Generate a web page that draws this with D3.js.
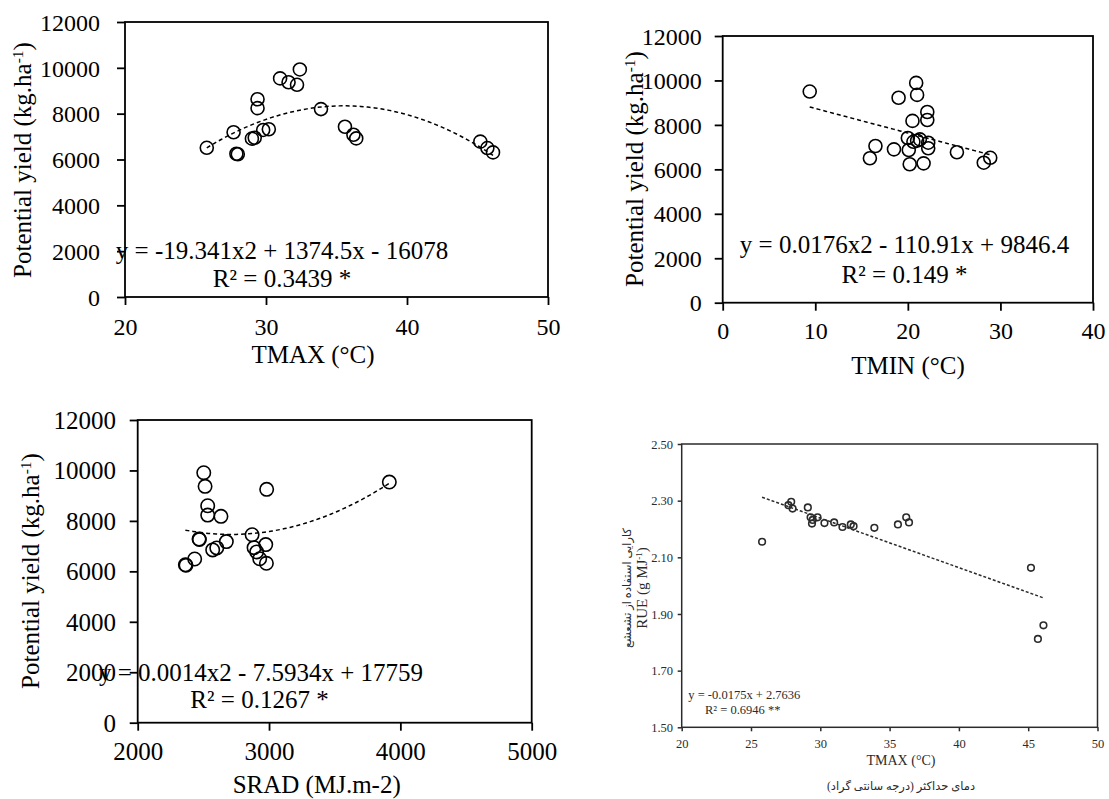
<!DOCTYPE html>
<html>
<head>
<meta charset="utf-8">
<script src="https://cdn.jsdelivr.net/npm/d3@7"></script>
<style>
body{margin:0;background:#fff;}
svg{display:block;}
</style>
</head>
<body>
<div id="chart"></div>
<script>
// ---- data ----
var tmaxX     = [25.8, 27.7, 27.9, 28.0, 29.0, 29.2, 29.4, 29.4, 29.8, 30.2, 31.0, 31.6, 32.2, 32.4, 33.9, 35.6, 36.2, 36.4, 45.2, 45.7, 46.1];
var tmaxYield = [6510, 7190, 6250, 6230, 6910, 6950, 8630, 8240, 7290, 7320, 9540, 9370, 9260, 9930, 8200, 7430, 7080, 6920, 6780, 6500, 6310];
var tmaxFit   = [-19.341, 1374.5, -16078];

var tminX     = [9.4, 15.9, 16.5, 18.5, 19.0, 20.0, 20.1, 20.2, 20.5, 20.6, 20.9, 21.0, 21.0, 21.3, 21.7, 22.1, 22.1, 22.2, 22.2, 25.3, 28.2, 28.9];
var tminYield = [9500, 6500, 7050, 6900, 9220, 7410, 6870, 6230, 8180, 7240, 9890, 9350, 7290, 7350, 6270, 8580, 8220, 7200, 6950, 6770, 6300, 6520];
var tminFit   = [0.0176, -110.91, 9846.4];

var sradX     = [2363, 2368, 2434, 2467, 2470, 2503, 2513, 2533, 2533, 2571, 2602, 2634, 2675, 2871, 2886, 2906, 2929, 2975, 2980, 2982, 3916];
var sradYield = [6260, 6240, 6490, 7280, 7260, 9910, 9370, 8600, 8230, 6850, 6930, 8180, 7180, 7450, 6940, 6770, 6500, 7060, 6320, 9250, 9540];
var sradFit   = [0.0014, -7.5934, 17759];

var rueTmax   = [25.8, 27.7, 27.9, 28.0, 29.1, 29.3, 29.4, 29.45, 29.8, 30.3, 31.0, 31.6, 32.2, 32.4, 33.9, 35.6, 36.2, 36.4, 45.2, 45.7, 46.1];
var rueValue  = [2.155, 2.284, 2.296, 2.272, 2.276, 2.241, 2.219, 2.232, 2.241, 2.221, 2.223, 2.207, 2.216, 2.210, 2.204, 2.216, 2.241, 2.223, 2.063, 1.812, 1.860];
var rueFit    = [0, -0.0175, 2.7636];

var yieldTicks = [0, 2000, 4000, 6000, 8000, 10000, 12000];
var tmaxTicks  = [20, 30, 40, 50];
var tminTicks  = [0, 10, 20, 30, 40];
var sradTicks  = [2000, 3000, 4000, 5000];
var rueXTicks  = [20, 25, 30, 35, 40, 45, 50];
var rueYTicks  = [1.5, 1.7, 1.9, 2.1, 2.3, 2.5];

var yieldTitle = 'Potential yield (kg.ha';
var eqTmax = ['y = -19.341x2 + 1374.5x - 16078', 'R² = 0.3439 *'];
var eqTmin = ['y = 0.0176x2 - 110.91x + 9846.4', 'R² = 0.149 *'];
var eqSrad = ['y = 0.0014x2 - 7.5934x + 17759', 'R² = 0.1267 *'];
var eqRue  = ['y = -0.0175x + 2.7636', 'R² = 0.6946 **'];

var serif = '"Liberation Serif", "Times New Roman", "DejaVu Sans", serif';

var svg = d3.select('#chart').append('svg')
    .attr('width', 1109)
    .attr('height', 799)
    .attr('font-family', serif);
svg.append('rect').attr('width', 1109).attr('height', 799).attr('fill', '#fff');

function poly(c, v){ return c[0]*v*v + c[1]*v + c[2]; }

/**
 * one scatter panel with its trend line
 */
function drawPanel(p){
    var b = p.box; // [left, right, top, bottom]
    var x = d3.scaleLinear().domain(p.xDomain).range([b[0], b[1]]);
    var y = d3.scaleLinear().domain(p.yDomain).range([b[3], b[2]]);
    var g = svg.append('g').attr('fill', p.ink);

    // x axis
    var gx = g.append('g')
        .attr('transform', 'translate(0,' + b[3] + ')')
        .call(d3.axisBottom(x).tickValues(p.xTicks).tickFormat(p.xFmt)
            .tickSizeInner(p.tick).tickSizeOuter(0));
    gx.attr('font-size', p.tickFs).attr('font-family', serif);
    gx.select('.domain').remove();
    gx.selectAll('line').attr('stroke', p.ink).attr('stroke-width', p.lw);
    gx.selectAll('text').attr('y', p.xLabelY).attr('dy', null).attr('fill', p.ink);

    // y axis
    var gy = g.append('g')
        .attr('transform', 'translate(' + b[0] + ',0)')
        .call(d3.axisLeft(y).tickValues(p.yTicks).tickFormat(p.yFmt)
            .tickSizeInner(p.tick).tickSizeOuter(0));
    gy.attr('font-size', p.tickFs).attr('font-family', serif);
    gy.select('.domain').remove();
    gy.selectAll('line').attr('stroke', p.ink).attr('stroke-width', p.lw);
    gy.selectAll('text').attr('x', -p.yLabelGap).attr('dy', '0.34em').attr('fill', p.ink);

    // frame
    g.append('rect')
        .attr('x', b[0]).attr('y', b[2])
        .attr('width', b[1] - b[0]).attr('height', b[3] - b[2])
        .attr('fill', 'none').attr('stroke', p.ink).attr('stroke-width', p.lw);

    // trend line
    var lo = d3.min(p.xs), hi = d3.max(p.xs);
    var xs = d3.range(0, 81).map(function(i){ return lo + (hi - lo) * i / 80; });
    g.append('path')
        .attr('d', d3.line().x(function(d){ return x(d); }).y(function(d){ return y(poly(p.fit, d)); })(xs))
        .attr('fill', 'none').attr('stroke', p.ink)
        .attr('stroke-width', p.dashW).attr('stroke-dasharray', p.dash);

    // points
    g.append('g').selectAll('circle')
        .data(p.xs.map(function(v, i){ return [v, p.ys[i]]; }))
        .enter().append('circle')
        .attr('cx', function(d){ return x(d[0]); })
        .attr('cy', function(d){ return y(d[1]); })
        .attr('r', p.r)
        .attr('fill', 'none').attr('stroke', p.ink).attr('stroke-width', p.markW);

    // equation
    g.selectAll('text.eq').data(p.eq).enter().append('text')
        .attr('class', 'eq')
        .attr('x', function(d, i){ return p.eqX[i]; })
        .attr('y', function(d, i){ return p.eqY[i]; })
        .attr('text-anchor', p.eqAnchor)
        .attr('font-size', p.eqFs)
        .text(function(d){ return d; });

    // x title
    g.append('text')
        .attr('x', p.xTitle[1]).attr('y', p.xTitle[2])
        .attr('text-anchor', 'middle').attr('font-size', p.titleFs)
        .text(p.xTitle[0]);

    return g;
}

function yieldYTitle(g, bx, cy, fs){
    var t = g.append('text')
        .attr('transform', 'translate(' + bx + ',' + cy + ') rotate(-90)')
        .attr('text-anchor', 'middle')
        .attr('font-size', fs);
    t.append('tspan').text(yieldTitle);
    t.append('tspan').attr('baseline-shift', 'super').attr('font-size', fs * 0.62).text('-1');
    t.append('tspan').text(')');
}

// TMAX panel
var p1 = drawPanel({
    box: [125, 548, 22, 297], xDomain: [20, 50], yDomain: [0, 12000],
    xTicks: tmaxTicks, yTicks: yieldTicks, xFmt: d3.format('d'), yFmt: d3.format('d'),
    xs: tmaxX, ys: tmaxYield, fit: tmaxFit,
    ink: '#000', lw: 1.8, tick: 8, tickFs: 24, xLabelY: 38, yLabelGap: 25,
    r: 6.5, markW: 1.6, dash: '4,3', dashW: 1.5,
    eq: eqTmax, eqX: [282, 282], eqY: [259, 287], eqAnchor: 'middle', eqFs: 25,
    xTitle: ['TMAX (°C)', 313, 363], titleFs: 25
});
yieldYTitle(p1, 31, 160, 25);

// TMIN panel
var p2 = drawPanel({
    box: [722.7, 1093, 36, 302.7], xDomain: [0, 40], yDomain: [0, 12000],
    xTicks: tminTicks, yTicks: yieldTicks, xFmt: d3.format('d'), yFmt: d3.format('d'),
    xs: tminX, ys: tminYield, fit: tminFit,
    ink: '#000', lw: 1.8, tick: 8, tickFs: 24, xLabelY: 36.5, yLabelGap: 21,
    r: 6.5, markW: 1.6, dash: '4,3', dashW: 1.5,
    eq: eqTmin, eqX: [904.5, 904.5], eqY: [253, 282.7], eqAnchor: 'middle', eqFs: 25,
    xTitle: ['TMIN (°C)', 908, 374], titleFs: 25
});
yieldYTitle(p2, 643, 169, 25);

// SRAD panel
var p3 = drawPanel({
    box: [137.7, 531.7, 420, 722.7], xDomain: [2000, 5000], yDomain: [0, 12000],
    xTicks: sradTicks, yTicks: yieldTicks, xFmt: d3.format('d'), yFmt: d3.format('d'),
    xs: sradX, ys: sradYield, fit: sradFit,
    ink: '#000', lw: 1.8, tick: 8, tickFs: 25, xLabelY: 37.3, yLabelGap: 21.7,
    r: 6.7, markW: 1.6, dash: '4,3', dashW: 1.5,
    eq: eqSrad, eqX: [261, 259.5], eqY: [681, 708.3], eqAnchor: 'middle', eqFs: 25,
    xTitle: ['SRAD (MJ.m-2)', 316.7, 793], titleFs: 25
});
yieldYTitle(p3, 39, 571, 25);

// RUE panel
var p4 = drawPanel({
    box: [681.7, 1097.5, 444, 727.3], xDomain: [20, 50], yDomain: [1.5, 2.5],
    xTicks: rueXTicks, yTicks: rueYTicks, xFmt: d3.format('d'), yFmt: d3.format('.2f'),
    xs: rueTmax, ys: rueValue, fit: rueFit,
    ink: '#2b2b2b', lw: 1.5, tick: 4, tickFs: 12.5, xLabelY: 20.7, yLabelGap: 8.7,
    r: 3.3, markW: 1.6, dash: '3,2', dashW: 1.5,
    eq: eqRue, eqX: [688.3, 705], eqY: [699.3, 714], eqAnchor: 'start', eqFs: 12.5,
    xTitle: ['TMAX (°C)', 901, 765], titleFs: 14
});
p4.append('text')
    .attr('x', 901).attr('y', 790)
    .attr('text-anchor', 'middle').attr('font-size', 11.5)
    .text('دمای حداکثر (درجه سانتی گراد)');
var rt = p4.append('text')
    .attr('transform', 'translate(647,588) rotate(-90)')
    .attr('text-anchor', 'middle').attr('font-size', 15);
rt.append('tspan').text('RUE (g MJ');
rt.append('tspan').attr('baseline-shift', 'super').attr('font-size', 9).text('-1');
rt.append('tspan').text(')');
p4.append('text')
    .attr('transform', 'translate(631,588) rotate(-90)')
    .attr('text-anchor', 'middle').attr('font-size', 11.5)
    .text('کارایی استفاده از تشعشع');
</script>
</body>
</html>
